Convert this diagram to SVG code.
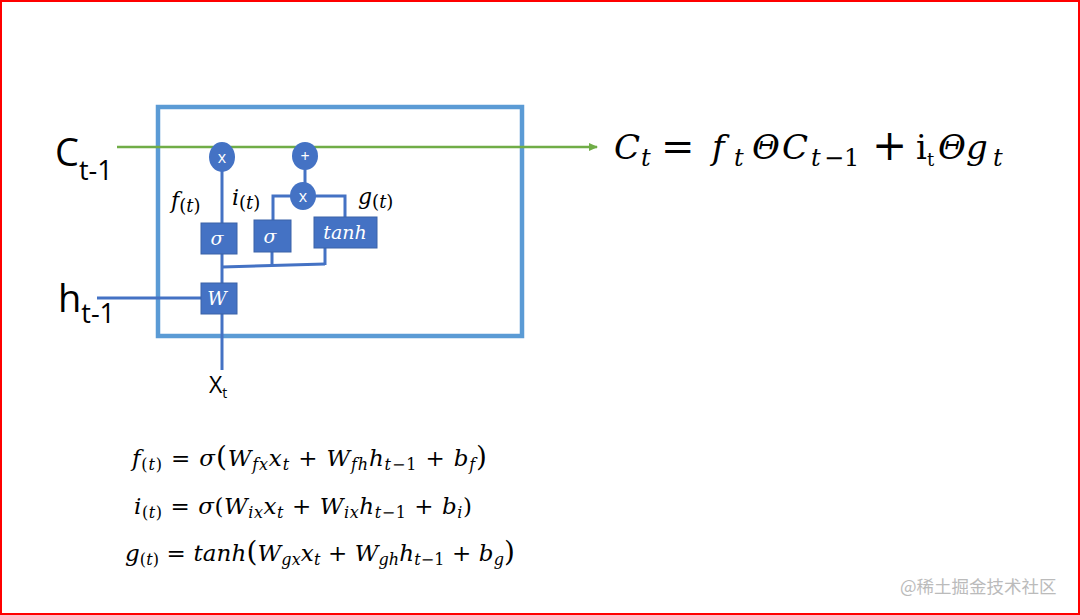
<svg xmlns="http://www.w3.org/2000/svg" width="1080" height="615" viewBox="0 0 1080 615">
<defs>
<marker id="arrG" markerWidth="10" markerHeight="10" refX="8" refY="5" orient="auto" markerUnits="userSpaceOnUse">
<path d="M0,1 L9,5 L0,9 Z" fill="#70AD47"/>
</marker>
<style>
.frame{fill:#fff;stroke:#FF0000;stroke-width:2}
.cell{fill:none;stroke:#5B9BD5;stroke-width:4.5}
.wire{fill:none;stroke:#4472C4;stroke-width:3}
.cline{fill:none;stroke:#70AD47;stroke-width:2.5}
.op{fill:#4472C4}
.box{fill:#4472C4;stroke:#3A62A8;stroke-width:1}
.opt{font-family:"Open Sans","Liberation Sans",sans-serif;font-size:16px;fill:#fff;text-anchor:middle}
.bt{font-family:"DejaVu Serif","Liberation Serif",serif;font-style:italic;font-size:19px;fill:#fff;text-anchor:middle}
.big{font-family:"Open Sans","Liberation Sans",sans-serif;fill:#000}
.m{font-family:"DejaVu Serif","Liberation Serif",serif;fill:#000}
.i{font-style:italic}
.wm{font-family:"Noto Sans CJK SC","Liberation Sans",sans-serif;font-size:17.5px;fill:#BBBBBB}
</style>
</defs>
<rect class="frame" x="1" y="1" width="1078" height="613"/>
<rect id="cell" class="cell" x="158" y="107" width="364" height="229"/>

<g id="connectors">
<line class="cline" x1="117" y1="147" x2="597" y2="147" marker-end="url(#arrG)"/>
<path class="wire" d="M222,160 V370"/>
<path class="wire" d="M97,298 H202"/>
<path class="wire" d="M305,160 V197"/>
<path class="wire" d="M291,196 H273 V221"/>
<path class="wire" d="M315,196 H345 V218"/>
<path class="wire" d="M222,267 L325,264"/>
<path class="wire" d="M272,252 V266"/>
<path class="wire" d="M325,248 V265"/>
</g>

<g id="mul-forget">
<ellipse class="op" cx="222" cy="157" rx="13" ry="15"/>
<text class="opt" x="222" y="163">x</text>
</g>
<g id="add">
<ellipse class="op" cx="305" cy="156" rx="13" ry="14"/>
<text class="opt" x="305" y="162">+</text>
</g>
<g id="mul-input">
<ellipse class="op" cx="303" cy="196" rx="13" ry="14"/>
<text class="opt" x="303" y="202">x</text>
</g>
<g id="sigma-f">
<rect class="box" x="201" y="223" width="36" height="31"/>
<text class="bt" x="217" y="245">σ</text>
</g>
<g id="sigma-i">
<rect class="box" x="254" y="220" width="37" height="32"/>
<text class="bt" x="270" y="243">σ</text>
</g>
<g id="tanh">
<rect class="box" x="314" y="217" width="63" height="31"/>
<text class="bt" x="345" y="239" font-size="20">tanh</text>
</g>
<g id="W">
<rect class="box" x="201" y="283" width="36" height="31"/>
<text class="bt" x="217" y="305">W</text>
</g>

<g id="labels">
<text class="m i" x="171" y="208" font-size="22">f<tspan font-size="18" dy="4" font-style="normal">(</tspan><tspan font-size="18">t</tspan><tspan font-size="18" font-style="normal">)</tspan></text>
<text class="m i" x="232" y="205" font-size="22">i<tspan font-size="18" dy="4" font-style="normal">(</tspan><tspan font-size="18">t</tspan><tspan font-size="18" font-style="normal">)</tspan></text>
<text class="m i" x="358" y="204" font-size="22">g<tspan font-size="18" dy="4" font-style="normal">(</tspan><tspan font-size="18">t</tspan><tspan font-size="18" font-style="normal">)</tspan></text>
</g>

<g id="C-in"><text class="big" x="55" y="166" font-size="38">C<tspan font-size="27" dy="14">t-1</tspan></text></g>
<g id="h-in"><text class="big" x="58" y="312" font-size="38">h<tspan font-size="27" dy="11">t-1</tspan></text></g>
<g id="x-in"><text class="big" x="209" y="393" font-size="23">X<tspan font-size="14" dy="5">t</tspan></text></g>

<g id="eq-c" font-size="34">
<text class="m i" x="614" y="159">C</text>
<text class="m i" x="641" y="166" font-size="24">t</text>
<text class="m" x="661" y="160" font-size="40">=</text>
<text class="m i" x="712" y="159">f</text>
<text class="m i" x="734" y="166" font-size="24">t</text>
<text class="m i" x="752" y="159">Θ</text>
<text class="m i" x="782" y="159">C</text>
<text class="m i" x="811" y="166" font-size="24">t</text>
<text class="m" x="824" y="166" font-size="24">−1</text>
<text class="m" x="872" y="160" font-size="42">+</text>
<text class="m" x="916" y="159">i</text>
<text class="m" x="927" y="166" font-size="18">t</text>
<text class="m i" x="938" y="159">Θ</text>
<text class="m i" x="966" y="159">g</text>
<text class="m i" x="993" y="166" font-size="24">t</text>
</g>

<g id="eqs" font-size="23">
<text class="m" x="132" y="466" textLength="355" lengthAdjust="spacing"><tspan class="i">f</tspan><tspan font-size="16" dy="4">(</tspan><tspan font-size="16" class="i">t</tspan><tspan font-size="16">)</tspan><tspan dy="-4"> = </tspan><tspan class="i">σ</tspan><tspan font-size="28">(</tspan><tspan class="i">W</tspan><tspan class="i" font-size="16" dy="4">fx</tspan><tspan class="i" dy="-4">x</tspan><tspan class="i" font-size="16" dy="4">t</tspan><tspan dy="-4"> + </tspan><tspan class="i">W</tspan><tspan class="i" font-size="16" dy="4">fh</tspan><tspan class="i" dy="-4">h</tspan><tspan class="i" font-size="16" dy="4">t</tspan><tspan font-size="16">−1</tspan><tspan dy="-4"> + </tspan><tspan class="i">b</tspan><tspan class="i" font-size="16" dy="4">f</tspan><tspan font-size="28" dy="-4">)</tspan></text>
<text class="m" x="134" y="514" textLength="338" lengthAdjust="spacing"><tspan class="i">i</tspan><tspan font-size="16" dy="4">(</tspan><tspan font-size="16" class="i">t</tspan><tspan font-size="16">)</tspan><tspan dy="-4"> = </tspan><tspan class="i">σ</tspan><tspan>(</tspan><tspan class="i">W</tspan><tspan class="i" font-size="16" dy="4">ix</tspan><tspan class="i" dy="-4">x</tspan><tspan class="i" font-size="16" dy="4">t</tspan><tspan dy="-4"> + </tspan><tspan class="i">W</tspan><tspan class="i" font-size="16" dy="4">ix</tspan><tspan class="i" dy="-4">h</tspan><tspan class="i" font-size="16" dy="4">t</tspan><tspan font-size="16">−1</tspan><tspan dy="-4"> + </tspan><tspan class="i">b</tspan><tspan class="i" font-size="16" dy="4">i</tspan><tspan dy="-4">)</tspan></text>
<text class="m" x="125" y="561" textLength="390" lengthAdjust="spacing"><tspan class="i">g</tspan><tspan font-size="16" dy="4">(</tspan><tspan font-size="16" class="i">t</tspan><tspan font-size="16">)</tspan><tspan dy="-4"> = </tspan><tspan class="i">tanh</tspan><tspan font-size="28">(</tspan><tspan class="i">W</tspan><tspan class="i" font-size="16" dy="4">gx</tspan><tspan class="i" dy="-4">x</tspan><tspan class="i" font-size="16" dy="4">t</tspan><tspan dy="-4"> + </tspan><tspan class="i">W</tspan><tspan class="i" font-size="16" dy="4">gh</tspan><tspan class="i" dy="-4">h</tspan><tspan class="i" font-size="16" dy="4">t</tspan><tspan font-size="16">−1</tspan><tspan dy="-4"> + </tspan><tspan class="i">b</tspan><tspan class="i" font-size="16" dy="4">g</tspan><tspan font-size="28" dy="-4">)</tspan></text>
</g>

<text class="wm" x="900" y="593">@稀土掘金技术社区</text>
</svg>
